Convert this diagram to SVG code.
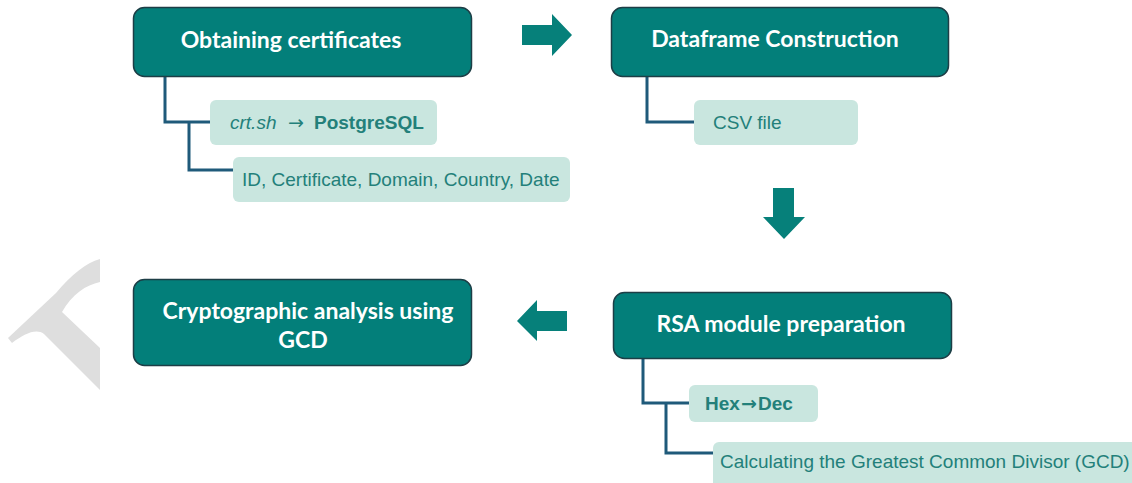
<svg xmlns="http://www.w3.org/2000/svg" width="1132" height="483" viewBox="0 0 1132 483">
  <style>
    .step { fill: #037f7a; stroke: #1d3e46; stroke-width: 1.5; }
    .step-label { font-family: Lato, "Open Sans", sans-serif; font-weight: 700; font-size: 23px; fill: #ffffff; text-anchor: middle; }
    .detail { fill: #c9e6df; }
    .detail-label { font-family: "Liberation Sans", Arial, sans-serif; font-size: 19px; fill: #23807a; }
    .bold { font-weight: 700; }
    .arrow-glyph { font-family: "DejaVu Sans", sans-serif; font-size: 19px; }
    .link { fill: none; stroke: #1f5a7a; stroke-width: 3; stroke-linejoin: miter; }
    .flow { fill: #06807a; }
    .mark { fill: #dedede; }
  </style>

  <!-- faint logo mark at the left edge -->
  <path class="mark" d="M100 259 L100 282 C86 285 72 294 62 312 L100 348 L100 390 L44 334 C36 328 24 334 12 343 L8 338 L56 293 C72 274 86 263 100 259 Z"/>

  <!-- connectors from each step to its details -->
  <g id="connectors">
    <path class="link" d="M165 77 V122 H210"/>
    <path class="link" d="M189 122 V170 H233"/>
    <path class="link" d="M647 77 V122 H694"/>
    <path class="link" d="M643 358 V403 H689"/>
    <path class="link" d="M666 403 V453 H713"/>
  </g>

  <!-- flow arrows between steps -->
  <g id="flow-arrows">
    <path class="flow" d="M522 25 H552 V14 L572 35 L552 56 V45 H522 Z"/>
    <path class="flow" d="M773 188 H794 V217 H805 L784 239 L763 217 H773 Z"/>
    <path class="flow" d="M567 311 H537 V300 L517 321 L537 341 V331 H567 Z"/>
  </g>

  <g id="obtaining-certificates">
    <rect class="step" x="133.5" y="7.5" width="338" height="69" rx="11"/>
    <text class="step-label" x="291" y="48">Obtaining certificates</text>
  </g>

  <g id="crtsh-postgresql">
    <rect class="detail" x="210" y="100" width="227" height="45" rx="6"/>
    <text class="detail-label" y="129"><tspan x="230" font-style="italic">crt.sh</tspan><tspan x="288" class="arrow-glyph">→</tspan><tspan x="314" class="bold">PostgreSQL</tspan></text>
  </g>

  <g id="certificate-fields">
    <rect class="detail" x="233" y="157" width="337" height="45" rx="6"/>
    <text class="detail-label" x="242" y="186">ID, Certificate, Domain, Country, Date</text>
  </g>

  <g id="dataframe-construction">
    <rect class="step" x="611.5" y="7.5" width="337" height="69" rx="11"/>
    <text class="step-label" x="775" y="47">Dataframe Construction</text>
  </g>

  <g id="csv-file">
    <rect class="detail" x="694" y="100" width="164" height="45" rx="6"/>
    <text class="detail-label" x="713" y="129">CSV file</text>
  </g>

  <g id="rsa-module-preparation">
    <rect class="step" x="613.5" y="292.5" width="338" height="66" rx="11"/>
    <text class="step-label" x="781" y="332">RSA module preparation</text>
  </g>

  <g id="hex-dec">
    <rect class="detail" x="689" y="385" width="129" height="37" rx="6"/>
    <text class="detail-label bold" y="410"><tspan x="705">Hex</tspan><tspan x="741" class="arrow-glyph">→</tspan><tspan x="758">Dec</tspan></text>
  </g>

  <g id="gcd-calculation">
    <rect class="detail" x="713" y="442" width="425" height="50" rx="6"/>
    <text class="detail-label" x="720" y="468">Calculating the Greatest Common Divisor (GCD)</text>
  </g>

  <g id="cryptographic-analysis">
    <rect class="step" x="133.5" y="279.5" width="338" height="86" rx="11"/>
    <text class="step-label"><tspan x="308" y="319">Cryptographic analysis using</tspan><tspan x="303" y="348">GCD</tspan></text>
  </g>
</svg>
